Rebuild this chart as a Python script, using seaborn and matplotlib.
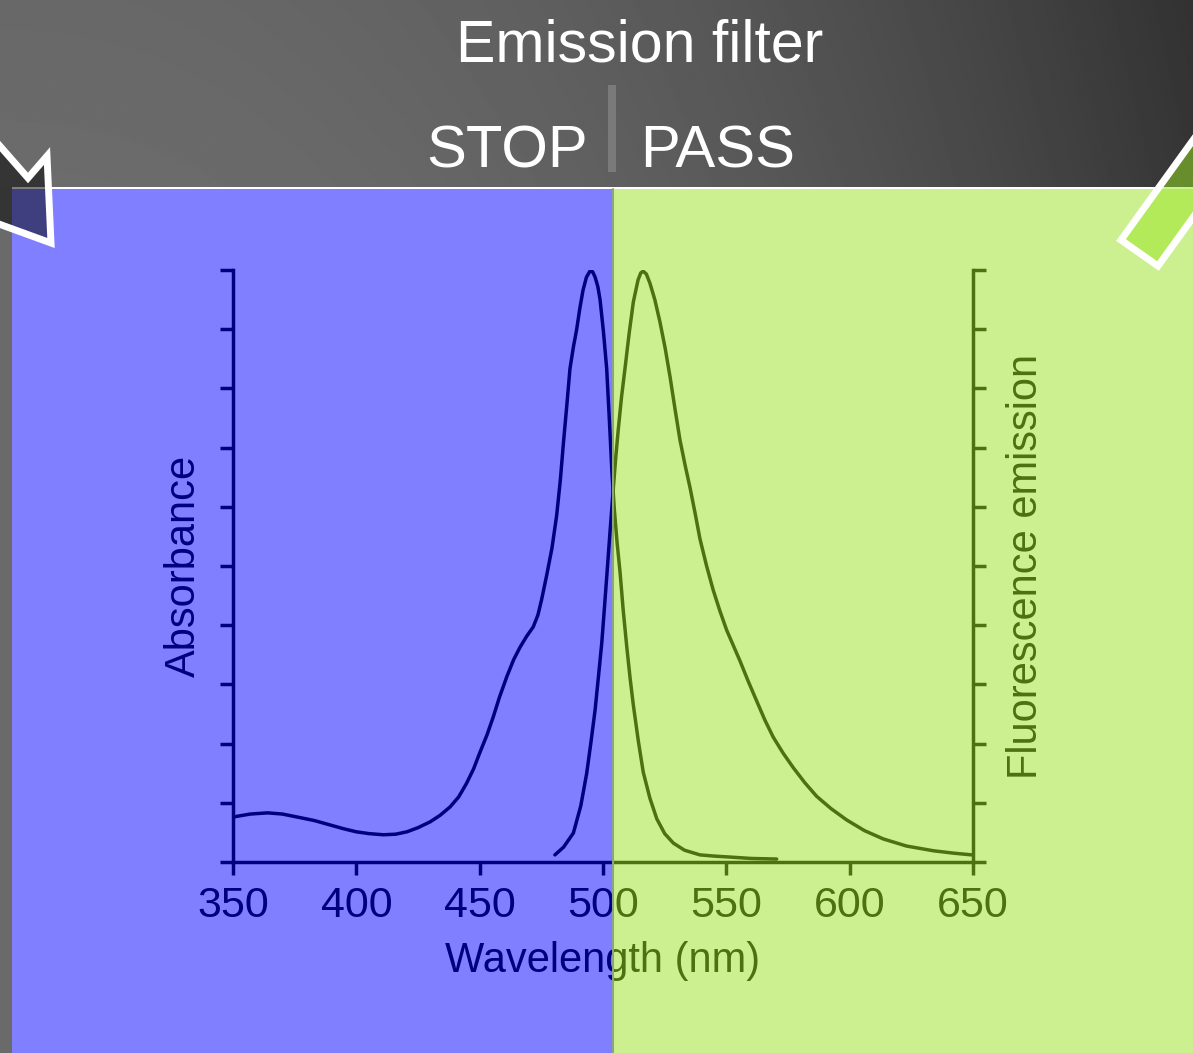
import numpy as np
import matplotlib
matplotlib.use("Agg")
import matplotlib.pyplot as plt
import seaborn as sns
from matplotlib.patches import Rectangle, Polygon

# ---------------- data ----------------
abs_nm = [350, 357, 364, 370, 376, 383, 389, 395, 400, 405, 411, 416, 420.5, 425,
          430, 434, 438, 441.5, 444.7, 447.5, 450, 453, 455.5, 458, 461, 463.8,
          466.4, 469, 471.7, 473.6, 475.1, 477.2, 479.3, 481.2, 482.7, 483.9,
          485.3, 486.6, 488, 489.3, 490.6, 491.9, 493.3, 494.7, 495.8, 496.8,
          497.9, 498.8, 500.2, 501.5, 502.6, 503.6, 504.6, 505.7, 506.9, 508.2,
          509.6, 511, 512.3, 514.3, 516.3, 519, 521.8, 525, 528.5, 533, 539.3,
          545, 552.8, 560, 570.4]
abs_val = [0.076, 0.081, 0.083, 0.081, 0.076, 0.070, 0.063, 0.056, 0.051, 0.048,
           0.046, 0.047, 0.051, 0.058, 0.068, 0.079, 0.093, 0.110, 0.133, 0.157,
           0.184, 0.215, 0.245, 0.278, 0.313, 0.342, 0.363, 0.381, 0.397, 0.417,
           0.443, 0.485, 0.530, 0.585, 0.645, 0.705, 0.770, 0.833, 0.870, 0.899,
           0.935, 0.966, 0.988, 0.998, 0.997, 0.988, 0.972, 0.950, 0.895, 0.833,
           0.745, 0.660, 0.595, 0.540, 0.490, 0.425, 0.365, 0.310, 0.265, 0.205,
           0.152, 0.108, 0.073, 0.048, 0.032, 0.020, 0.012, 0.010, 0.008, 0.006,
           0.005]

em_nm = [480.5, 484, 488, 491, 493.4, 495.2, 496.8, 498.2, 499.5, 500.5, 501.5,
         502.8, 504.2, 505.2, 506.2, 507.5, 508.9, 510.6, 512.3, 514.2, 515.3,
         516.3, 517.6, 519.0, 521, 523.1, 525.2, 527.2, 529.2, 531.2, 533.3,
         535.3, 537.3, 539.3, 542, 544.7, 547.4, 550.1, 552.8, 555.5, 558.9,
         562.3, 565.6, 569.0, 573, 577.2, 581.8, 586.6, 592.5, 598.8, 606, 613.6,
         623, 633.9, 642, 649.5]
em_val = [0.012, 0.025, 0.049, 0.095, 0.150, 0.205, 0.257, 0.315, 0.370, 0.425,
          0.481, 0.555, 0.632, 0.685, 0.731, 0.785, 0.833, 0.893, 0.946, 0.983,
          0.995, 0.998, 0.993, 0.978, 0.950, 0.912, 0.868, 0.819, 0.765, 0.713,
          0.670, 0.632, 0.590, 0.546, 0.500, 0.459, 0.424, 0.392, 0.366, 0.340,
          0.305, 0.272, 0.240, 0.211, 0.184, 0.159, 0.134, 0.111, 0.090, 0.071,
          0.053, 0.039, 0.027, 0.019, 0.015, 0.012]

x_ticks = [350, 400, 450, 500, 550, 600, 650]
y_ticks = [0.0, 0.1, 0.2, 0.3, 0.4, 0.5, 0.6, 0.7, 0.8, 0.9, 1.0]

title_text = "Emission filter"
stop_text = "STOP"
pass_text = "PASS"
x_label = "Wavelength (nm)"
y_left_label = "Absorbance"
y_right_label = "Fluorescence emission"

# ---------------- figure ----------------
W, H = 1193, 1053
sns.set_style("ticks")
plt.rcParams["font.family"] = ["Liberation Sans", "DejaVu Sans"]

fig = plt.figure(figsize=(W / 100, H / 100), dpi=100)
fig.patch.set_facecolor("white")

# background layer (pixel coordinates)
bg = fig.add_axes([0, 0, 1, 1], zorder=-5)
band_h = 188
gx = np.linspace(0, 1, 600)[None, :]
gy = np.linspace(0, 1, 100)[:, None]
grad = 108 - 54 * gx ** 2.2 - 4 * (1 - gy)
bg.imshow(grad, extent=(0, W, band_h, 0), cmap="gray", vmin=0, vmax=255,
          aspect="auto", interpolation="bilinear")
bg.add_patch(Rectangle((0, band_h), 12, H - band_h, facecolor="#6a6a6a", lw=0))
bg.add_patch(Rectangle((12, band_h - 1), W - 12, H - band_h + 1, facecolor="white", lw=0))
bg.set_xlim(0, W)
bg.set_ylim(H, 0)
bg.axis("off")

# chart axes
ax = fig.add_axes([233 / W, (H - 862) / H, 740 / W, 592 / H], zorder=0)
ax.set_facecolor("none")
sns.lineplot(x=abs_nm, y=abs_val, ax=ax, color="black", lw=2.5,
             solid_joinstyle="round", solid_capstyle="round")
ax.set_xlim(350, 650)
ax.set_ylim(0, 1)
ax.set_xticks(x_ticks)
ax.set_xticklabels([str(t) for t in x_ticks])
ax.set_yticks(y_ticks)
ax.set_yticklabels([])
for s in ["top", "right"]:
    ax.spines[s].set_visible(False)
for s in ["left", "bottom"]:
    ax.spines[s].set_linewidth(2.5)
    ax.spines[s].set_color("black")
ax.tick_params(axis="both", direction="out", length=9.5, width=2.5,
               color="black", labelcolor="black", labelsize=31, pad=8)

ax2 = ax.twinx()
sns.lineplot(x=em_nm, y=em_val, ax=ax2, color="black", lw=2.5,
             solid_joinstyle="round", solid_capstyle="round")
ax2.set_ylim(0, 1)
ax2.set_yticks(y_ticks)
ax2.set_yticklabels([])
for s in ["top", "left", "bottom"]:
    ax2.spines[s].set_visible(False)
ax2.spines["right"].set_linewidth(2.5)
ax2.spines["right"].set_color("black")
ax2.tick_params(axis="y", direction="out", length=9.5, width=2.5, color="black")
ax.set_xlim(350, 650)

ax.set_xlabel(x_label, fontsize=30, color="black")
ax.xaxis.label.set_va("center")
ax.xaxis.set_label_coords(0.5, (862 - 961) / 592)
ax.set_ylabel(y_left_label, fontsize=30, color="black")
ax.yaxis.label.set_va("center")
ax.yaxis.set_label_coords((184 - 233) / 740, 0.5)
ax2.set_ylabel(y_right_label, fontsize=30, color="black", rotation=90)
ax2.yaxis.label.set_va("center")
ax2.yaxis.set_label_coords((1026 - 233) / 740, 0.5)

# overlay layer (filters, arrows, titles)
ov = fig.add_axes([0, 0, 1, 1], zorder=10)
ov.patch.set_visible(False)
edge_px = 612.5
ov.add_patch(Rectangle((12, band_h + 1), edge_px - 12, H - band_h - 1,
                       facecolor=(0, 0, 1, 0.5), lw=0))
ov.add_patch(Rectangle((edge_px, band_h + 1), W - edge_px, H - band_h - 1,
                       facecolor=(154 / 255, 226 / 255, 34 / 255, 0.5), lw=0))
ov.plot([edge_px, edge_px], [band_h + 1, H], color="#8ca57c", lw=1.5)

# left arrow (pointing down-right, mostly off-canvas)
left_arrow = [(-80, 55), (28, 178), (47, 156), (51, 243), (-34, 212), (-20, 196), (-110, 100)]
ov.add_patch(Polygon(left_arrow, closed=True, facecolor=(0, 0, 0, 0.5),
                     edgecolor="white", lw=5, joinstyle="miter"))
# right arrow tail (bar going up-right)
d = np.array([0.585, -0.811])
A = np.array([1121, 240])
B = np.array([1158, 266])
right_bar = [tuple(A), tuple(B), tuple(B + 250 * d), tuple(A + 250 * d)]
ov.add_patch(Polygon(right_bar, closed=True,
                     facecolor=(153 / 255, 229 / 255, 37 / 255, 0.5),
                     edgecolor="white", lw=5, joinstyle="miter"))

ov.add_patch(Rectangle((608, 85), 8, 87, facecolor="#7a7a7a", lw=0))
ov.text(640, 61, title_text, color="white", fontsize=42.5, ha="center", va="baseline")
ov.text(507, 167, stop_text, color="white", fontsize=43, ha="center", va="baseline")
ov.text(718, 167, pass_text, color="white", fontsize=43, ha="center", va="baseline")

ov.set_xlim(0, W)
ov.set_ylim(H, 0)
ov.axis("off")

fig.savefig("out.png", dpi=100)
